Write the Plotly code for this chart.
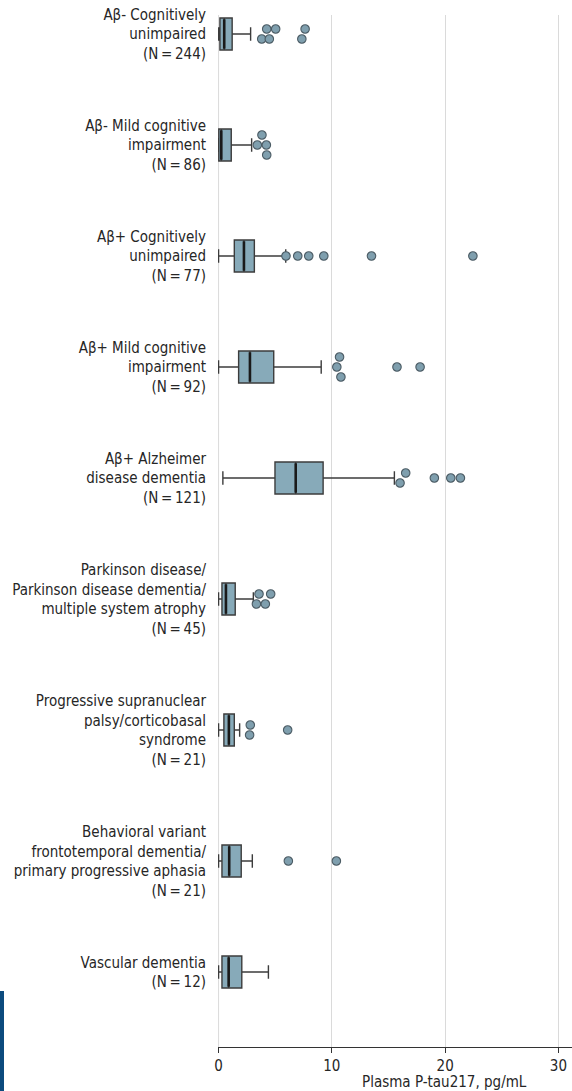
import plotly.graph_objects as go

# Group labels (multi-line) and box statistics, plasma P-tau217 in pg/mL
labels = [
    "Aβ- Cognitively<br>unimpaired<br>(N\u2009=\u2009244)",
    "Aβ- Mild cognitive<br>impairment<br>(N\u2009=\u200986)",
    "Aβ+ Cognitively<br>unimpaired<br>(N\u2009=\u200977)",
    "Aβ+ Mild cognitive<br>impairment<br>(N\u2009=\u200992)",
    "Aβ+ Alzheimer<br>disease dementia<br>(N\u2009=\u2009121)",
    "Parkinson disease/<br>Parkinson disease dementia/<br>multiple system atrophy<br>(N\u2009=\u200945)",
    "Progressive supranuclear<br>palsy/corticobasal<br>syndrome<br>(N\u2009=\u200921)",
    "Behavioral variant<br>frontotemporal dementia/<br>primary progressive aphasia<br>(N\u2009=\u200921)",
    "Vascular dementia<br>(N\u2009=\u200912)",
]
lower_fence = [0.0, 0.0, 0.0, 0.0, 0.38, 0.0, 0.0, 0.0, 0.0]
q1 = [0.12, 0.02, 1.39, 1.77, 4.98, 0.30, 0.47, 0.30, 0.30]
median = [0.50, 0.24, 2.24, 2.77, 6.81, 0.65, 0.91, 0.94, 0.89]
q3 = [1.20, 1.12, 3.16, 4.87, 9.23, 1.47, 1.39, 2.00, 2.05]
upper_fence = [2.83, 2.92, 5.93, 9.06, 15.52, 3.07, 1.86, 2.98, 4.40]
outliers = [
    [3.81, 4.25, 4.48, 5.04, 7.35, 7.64],
    [3.42, 3.83, 4.22, 4.25],
    [5.95, 6.99, 7.96, 9.29, 13.5, 22.45],
    [10.44, 10.68, 10.80, 15.75, 17.79],
    [16.02, 16.52, 19.05, 20.50, 21.35],
    [3.34, 3.57, 4.13, 4.60],
    [2.74, 2.80, 6.10],
    [6.16, 10.40],
    [],
]
x_ticks = [0, 10, 20, 30]

FONT = "Liberation Sans Narrow, Arial Narrow, DejaVu Sans Condensed, sans-serif"
TEXT = "#262626"
BOX_FILL = "#87aab9"
EDGE = "#3c3c3c"
DOT_FILL = "#7f9fae"
DOT_EDGE = "#4b5b64"
GRID = "#dadada"

# Vertical placement: rows spaced by the height of their labels
ROW_GAP = 2.55
n_lines = [lab.count("<br>") + 1 for lab in labels]
pos = [0.0]
for i in range(1, len(labels)):
    pos.append(pos[-1] + ROW_GAP + (n_lines[i - 1] + n_lines[i]) / 2)

LANE = 0.5       # vertical step between stacked outliers (y units)
MIN_GAP = 0.62   # horizontal distance below which outliers stack (x units)


def stack_offsets(values):
    """Greedy lanes for nearby outliers, each cluster centred on the row."""
    order = sorted(range(len(values)), key=lambda k: values[k])
    lanes = {}
    placed = []
    for k in order:
        v = values[k]
        for lane in (0, -1, 1, -2, 2, -3, 3):
            if all(abs(v - pv) >= MIN_GAP for pv, pl in placed if pl == lane):
                break
        placed.append((v, lane))
        lanes[k] = lane

    offsets = {}

    def centre(cluster):
        used = [lanes[c] for c in cluster]
        mid = (max(used) + min(used)) / 2
        for c in cluster:
            offsets[c] = (lanes[c] - mid) * LANE

    cluster = [order[0]] if order else []
    for a, b in zip(order, order[1:]):
        if values[b] - values[a] < MIN_GAP:
            cluster.append(b)
        else:
            centre(cluster)
            cluster = [b]
    if cluster:
        centre(cluster)
    return [offsets[k] for k in range(len(values))]


fig = go.Figure()

fig.add_trace(go.Box(
    y=pos,
    q1=q1, median=median, q3=q3,
    lowerfence=lower_fence, upperfence=upper_fence,
    orientation="h",
    width=1.6,
    whiskerwidth=0.42,
    fillcolor=BOX_FILL,
    line=dict(color=EDGE, width=1.4),
    boxpoints=False,
    hoverinfo="skip",
    showlegend=False,
))

# heavier median strokes
fig.add_trace(go.Scatter(
    x=median, y=pos, mode="markers",
    marker=dict(symbol="line-ns", size=21, color="#1a1a1a",
                line=dict(color="#1a1a1a", width=2.6)),
    hoverinfo="skip", showlegend=False,
))

ox, oy = [], []
for p, vals in zip(pos, outliers):
    if not vals:
        continue
    offs = stack_offsets(vals)
    ox.extend(vals)
    oy.extend(p + o for o in offs)

fig.add_trace(go.Scatter(
    x=ox, y=oy, mode="markers",
    marker=dict(size=8.5, color=DOT_FILL, line=dict(color=DOT_EDGE, width=1.1)),
    hoverinfo="skip", showlegend=False,
))

PLOT_H = 1091 - 15 - 44
fig.update_layout(
    width=572, height=1091,
    margin=dict(l=218, r=0, t=15, b=44),
    paper_bgcolor="white", plot_bgcolor="white",
    font=dict(family=FONT, size=15, color=TEXT),
    xaxis=dict(
        range=[-0.05, 31.2],
        tickvals=x_ticks,
        ticktext=[str(t) for t in x_ticks],
        showgrid=True, gridcolor=GRID, gridwidth=1,
        zeroline=False,
        showline=True, linecolor="#333333", linewidth=1.2,
        ticks="outside", ticklen=5, tickcolor="#333333", tickwidth=1.2,
        tickfont=dict(size=15, color=TEXT),
    ),
    yaxis=dict(
        range=[pos[-1] + 3.75, pos[0] - 0.95],
        tickvals=pos,
        ticktext=labels,
        showgrid=False, zeroline=False, showline=False,
        ticks="outside", ticklen=8, tickcolor="rgba(0,0,0,0)",
        tickfont=dict(size=15, color=TEXT),
    ),
    annotations=[dict(
        text="Plasma P-tau217, pg/mL",
        xref="paper", yref="paper",
        x=(444 - 218) / 354, y=-(1082 - 1047) / PLOT_H,
        xanchor="center", yanchor="middle",
        showarrow=False, font=dict(size=15, color=TEXT),
    )],
    shapes=[
        # grid line at zero, which sits on the range edge
        dict(type="line", xref="x", yref="paper", x0=0, x1=0, y0=0, y1=1,
             line=dict(color=GRID, width=1), layer="below"),
        dict(type="rect", xref="paper", yref="paper",
             x0=-218 / 354, x1=-214 / 354,
             y0=-44 / PLOT_H, y1=(1047 - 991) / PLOT_H,
             fillcolor="#0c4b7e", line=dict(width=0), layer="above"),
    ],
)

fig.write_html("out.html")
